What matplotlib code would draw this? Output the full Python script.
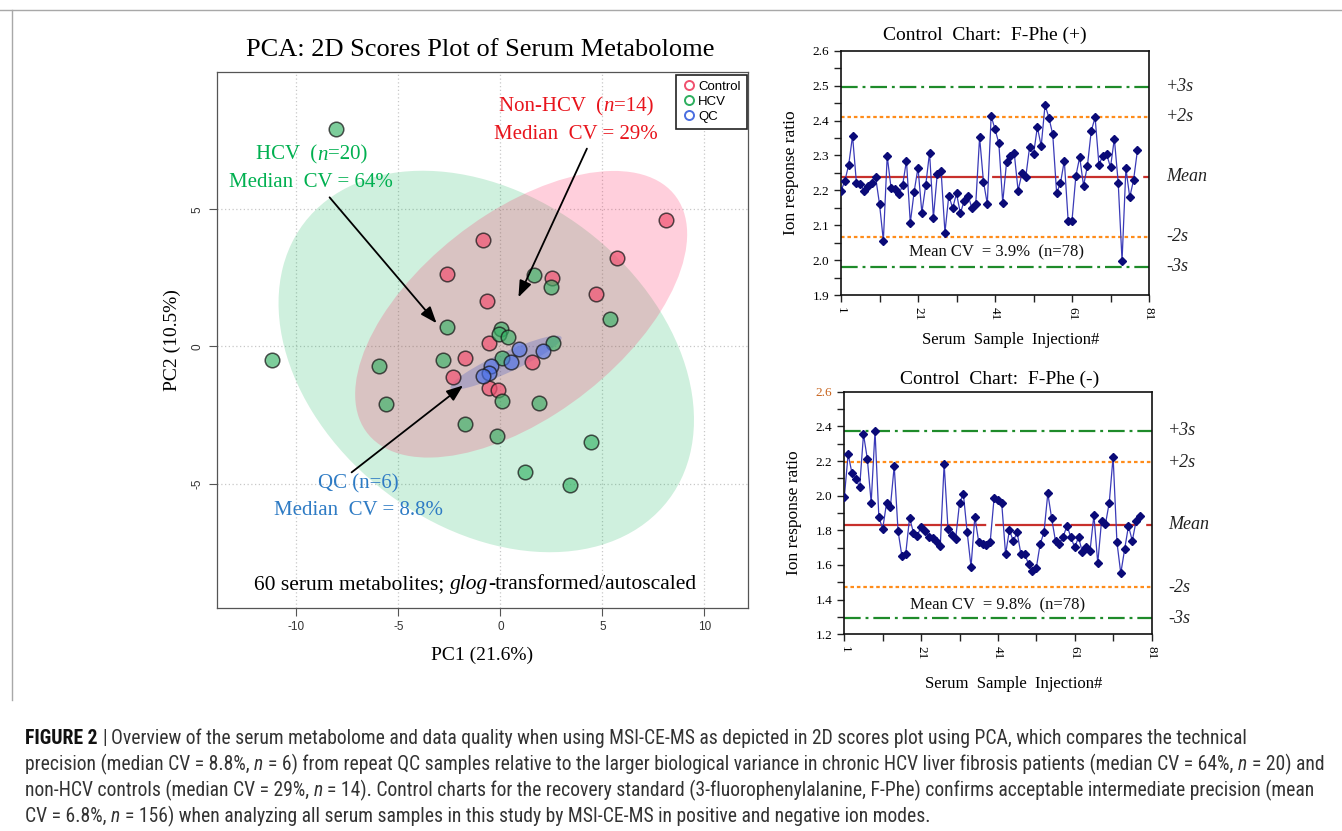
import numpy as np
import matplotlib
matplotlib.use("Agg")
import matplotlib.pyplot as plt
import matplotlib.transforms as mtransforms
from matplotlib.patches import Ellipse
from matplotlib.lines import Line2D
from matplotlib import font_manager

# ---------------- data ----------------
control_pc1 = [-2.60, -2.33, -0.83, 2.52, -0.67, -0.54, -1.73, 1.57, -0.54, -0.10, 8.12, 5.71, 4.68]
control_pc2 = [2.63, -1.12, 3.87, 2.49, 1.64, 0.12, -0.43, -0.57, -1.52, -1.58, 4.60, 3.22, 1.90]
hcv_pc1 = [-8.07, -11.19, -5.93, -5.60, -2.82, -2.63, 1.67, 2.49, 0.03, -0.05, 0.36, 2.57,
           0.07, 0.10, 1.91, -1.73, -0.18, 5.38, 4.45, 3.43, 1.23]
hcv_pc2 = [7.93, -0.49, -0.73, -2.09, -0.51, 0.70, 2.62, 2.16, 0.65, 0.46, 0.34, 0.12,
           -0.43, -1.99, -2.07, -2.82, -3.27, 1.01, -3.49, -5.04, -4.56]
qc_pc1 = [0.93, 2.08, 0.51, -0.47, -0.55, -0.83]
qc_pc2 = [-0.10, -0.15, -0.55, -0.71, -0.96, -1.06]

pos_ratio = [2.198, 2.227, 2.273, 2.356, 2.222, 2.218, 2.199, 2.212, 2.222, 2.237,
             2.161, 2.056, 2.298, 2.207, 2.204, 2.188, 2.214, 2.285, 2.107, 2.196,
             2.265, 2.136, 2.214, 2.308, 2.122, 2.246, 2.255, 2.079, 2.185, 2.149,
             2.191, 2.134, 2.170, 2.185, 2.149, 2.161, 2.352, 2.225, 2.161, 2.413,
             2.375, 2.335, 2.165, 2.280, 2.297, 2.306, 2.199, 2.249, 2.239, 2.325,
             2.303, 2.381, 2.327, 2.445, 2.408, 2.360, 2.193, 2.220, 2.285, 2.113,
             2.113, 2.241, 2.295, 2.213, 2.270, 2.370, 2.409, 2.273, 2.299, 2.303,
             2.266, 2.348, 2.222, 1.998, 2.263, 2.180, 2.230, 2.315]
neg_ratio = [1.990, 2.240, 2.129, 2.094, 2.050, 2.354, 2.212, 1.960, 2.373, 1.877,
             1.808, 1.958, 1.935, 2.171, 1.796, 1.652, 1.665, 1.873, 1.787, 1.769,
             1.821, 1.796, 1.763, 1.758, 1.740, 1.712, 2.183, 1.810, 1.771, 1.752,
             1.956, 2.012, 1.788, 1.590, 1.879, 1.733, 1.720, 1.715, 1.735, 1.985,
             1.975, 1.955, 1.662, 1.802, 1.738, 1.788, 1.662, 1.662, 1.604, 1.565,
             1.583, 1.721, 1.788, 2.013, 1.869, 1.738, 1.721, 1.763, 1.827, 1.760,
             1.702, 1.760, 1.673, 1.702, 1.683, 1.888, 1.610, 1.856, 1.835, 1.960,
             2.225, 1.731, 1.552, 1.690, 1.825, 1.740, 1.855, 1.885]
pos_mean, pos_sd = 2.239, 0.086
neg_mean, neg_sd = 1.833, 0.1805

pca_xticks = [-10, -5, 0, 5, 10]
pca_yticks = [-5, 0, 5]
inj_ticks = [1, 21, 41, 61, 81]

# ---------------- setup ----------------
W, H = 1342, 831
plt.rcParams["axes.unicode_minus"] = False
fig = plt.figure(figsize=(W / 100, H / 100), dpi=100)
fig.patch.set_facecolor("white")
ttf = font_manager.fontManager.ttflist
names = {f.name for f in ttf}
SERIF = "Liberation Serif"
SANS = "Liberation Sans"

# pick a condensed sans face for the caption if one exists
NARROW, NSTRETCH = "Liberation Sans", "normal"
if "Liberation Sans Narrow" in names:
    NARROW = "Liberation Sans Narrow"
else:
    for pref in ["Roboto Condensed", "Open Sans Condensed", "Noto Sans Condensed"]:
        if pref in names:
            NARROW = pref
            break
    else:
        for fam in ["Liberation Sans", "DejaVu Sans", "Noto Sans", "Open Sans", "Roboto"]:
            if any(f.name == fam and f.stretch in ("condensed", "semi-condensed") for f in ttf):
                NARROW = fam
                NSTRETCH = [f.stretch for f in ttf if f.name == fam and f.stretch in ("condensed", "semi-condensed")][0]
                break

renderer = fig.canvas.get_renderer()
ID = mtransforms.IdentityTransform()


def rect(l, t, r, b):
    return [l / W, 1 - b / H, (r - l) / W, (b - t) / H]


def _w(s, props):
    t1 = fig.text(0, 0, "|" + s + "|", **props)
    t2 = fig.text(0, 0, "||", **props)
    w = t1.get_window_extent(renderer).width - t2.get_window_extent(renderer).width
    t1.remove(); t2.remove()
    return w


def rich(x, y, segs, ha="center"):
    """x, y in display pixels (y from bottom, baseline)."""
    widths = [_w(s, p) for s, p in segs]
    total = sum(widths)
    cx = x - total / 2 if ha == "center" else x
    for (s, p), w in zip(segs, widths):
        lead = len(s) - len(s.lstrip(" "))
        st = s.strip(" ")
        off = _w(" " * lead, p) if lead else 0
        if st:
            fig.text(cx + off, y, st, transform=ID, ha="left", va="baseline", **p)
        cx += w
    return total


# panel frame lines (top and left)
fig.add_artist(Line2D([0, 1], [1 - 10 / H, 1 - 10 / H], transform=fig.transFigure,
                      color="#a8a8a8", lw=1.0))
fig.add_artist(Line2D([12 / W, 12 / W], [1 - 10 / H, 1 - 700 / H], transform=fig.transFigure,
                      color="#a8a8a8", lw=1.0))

# ---------------- PCA panel ----------------
ax = fig.add_axes(rect(217, 72, 748, 608))
ax.set_xlim(-13.89, 12.14)
ax.set_ylim(-9.53, 10.0)
ax.set_xticks(pca_xticks)
ax.set_yticks(pca_yticks)
ax.grid(True, color="#c8c8c8", linestyle=(0, (1, 2)), linewidth=0.9)
ax.set_axisbelow(True)
for sp in ax.spines.values():
    sp.set_color("#555555"); sp.set_linewidth(0.9)
ax.tick_params(direction="out", length=6, color="#555555", labelsize=8.5, labelcolor="#333333")
ax.tick_params(axis="y", labelrotation=90)
for lab in ax.get_xticklabels() + ax.get_yticklabels():
    lab.set_fontfamily(SANS)
for lab in ax.get_yticklabels():
    lab.set_va("center")


def conf_ellipse(xs, ys, **kw):
    xs, ys = np.asarray(xs), np.asarray(ys)
    cov = np.cov(xs, ys)
    vals, vecs = np.linalg.eigh(cov)
    order = vals.argsort()[::-1]
    vals, vecs = vals[order], vecs[:, order]
    ang = np.degrees(np.arctan2(vecs[1, 0], vecs[0, 0]))
    k = np.sqrt(5.991)
    return Ellipse((xs.mean(), ys.mean()), 2 * k * np.sqrt(vals[0]), 2 * k * np.sqrt(vals[1]),
                   angle=ang, **kw)


ax.add_patch(conf_ellipse(hcv_pc1, hcv_pc2, facecolor="#00B050", alpha=0.19, edgecolor="none", zorder=1))
ax.add_patch(conf_ellipse(control_pc1, control_pc2, facecolor="#FF1F5A", alpha=0.21, edgecolor="none", zorder=1))
ax.add_patch(conf_ellipse(qc_pc1, qc_pc2, facecolor="#3048C0", alpha=0.25, edgecolor="none", zorder=1))

ms = 110
ax.scatter(control_pc1, control_pc2, s=ms, facecolor=(0.95, 0.33, 0.45, 0.72),
           edgecolor=(0.1, 0.1, 0.1, 0.75), linewidth=1.1, zorder=3)
ax.scatter(hcv_pc1, hcv_pc2, s=ms, facecolor=(0.22, 0.70, 0.40, 0.65),
           edgecolor=(0.1, 0.1, 0.1, 0.75), linewidth=1.1, zorder=3)
ax.scatter(qc_pc1, qc_pc2, s=ms, facecolor=(0.30, 0.45, 0.92, 0.62),
           edgecolor=(0.1, 0.1, 0.1, 0.75), linewidth=1.1, zorder=3)

handles = [Line2D([], [], marker="o", linestyle="none", markerfacecolor="none", markeredgecolor=c,
                  markeredgewidth=1.4, markersize=6.5) for c in ["#F0506E", "#2EAF5F", "#4A6EE0"]]
leg = ax.legend(handles, ["Control", "HCV", "QC"], loc="upper right", bbox_to_anchor=(1.0, 0.997),
                borderaxespad=0.1, frameon=True, fancybox=False, framealpha=1, edgecolor="#222222",
                handletextpad=0.15, borderpad=0.45, labelspacing=0.2, handlelength=1.1,
                prop={"family": SANS, "size": 9.5})
leg.get_frame().set_linewidth(1.2)
leg.set_zorder(6)

arrow_kw = dict(arrowstyle="-|>,head_length=1.0,head_width=0.38", color="black", lw=1.3)
ax.annotate("", xy=(-3.04, 0.77), xytext=(-8.46, 5.51), arrowprops=arrow_kw, zorder=5)
ax.annotate("", xy=(0.83, 1.70), xytext=(4.30, 7.30), arrowprops=arrow_kw, zorder=5)
ax.annotate("", xy=(-1.72, -1.36), xytext=(-7.40, -4.65), arrowprops=arrow_kw, zorder=5)

ax.set_xlabel("PC1 (21.6%)", fontfamily=SERIF, fontsize=14, labelpad=10)
ax.set_ylabel("PC2 (10.5%)", fontfamily=SERIF, fontsize=14, labelpad=8)
fig.text(480 / W, 1 - 50 / H, "PCA: 2D Scores Plot of Serum Metabolome", fontfamily=SERIF,
         fontsize=19, ha="center", va="center")

fig.canvas.draw()


def d2px(x, y):
    return ax.transData.transform((x, y))


RED, GRN, BLU = "#E8141C", "#00B050", "#2E7BC4"
pr = dict(family=SERIF, size=15, color=RED)
pri = dict(family=SERIF, size=15, color=RED, style="italic")
x, y = d2px(3.71, 8.82); rich(x, y - 7, [("Non-HCV  (", pr), ("n", pri), ("=14)", pr)])
x, y = d2px(3.71, 7.81); rich(x, y - 7, [("Median  CV = 29%", pr)])
pg = dict(family=SERIF, size=15, color=GRN)
pgi = dict(family=SERIF, size=15, color=GRN, style="italic")
x, y = d2px(-9.25, 7.06); rich(x, y - 7, [("HCV  (", pg), ("n", pgi), ("=20)", pg)])
x, y = d2px(-9.30, 6.08); rich(x, y - 7, [("Median  CV = 64%", pg)])
pb = dict(family=SERIF, size=15, color=BLU)
x, y = d2px(-6.96, -4.91); rich(x, y - 7, [("QC (n=6)", pb)])
x, y = d2px(-6.96, -5.88); rich(x, y - 7, [("Median  CV = 8.8%", pb)])
pk = dict(family=SERIF, size=15.5, color="black")
pki = dict(family=SERIF, size=15.5, color="black", style="italic")
x, y = d2px(-1.24, -8.59)
rich(x, y - 7, [("60 serum metabolites; ", pk), ("glog", pki), ("-transformed/autoscaled", pk)])


# ---------------- control charts ----------------
def control_chart(r, vals, mean, sd, ylim, major, minor, title, title_xy, cv_text, cv_xy,
                  ylab_x, xlab_y, top_label_color=None):
    a = fig.add_axes(r)
    xs = np.arange(1, len(vals) + 1)
    a.set_xlim(1, 81)
    a.set_ylim(*ylim)
    green = (0, (7.5, 2.2, 1.3, 2.2))
    a.axhline(mean + 3 * sd, color="#1E8B2A", lw=1.6, linestyle=green, zorder=1)
    a.axhline(mean - 3 * sd, color="#1E8B2A", lw=1.6, linestyle=green, zorder=1)
    a.axhline(mean + 2 * sd, color="#FF8C1A", lw=1.6, linestyle=(0, (1.6, 1.3)), zorder=1)
    a.axhline(mean - 2 * sd, color="#FF8C1A", lw=1.6, linestyle=(0, (1.6, 1.3)), zorder=1)
    a.axhline(mean, color="#C8302C", lw=1.6, linestyle=(0, (30, 4)), zorder=1)
    a.plot(xs, vals, color="#3A3AB8", lw=0.9, zorder=2)
    a.plot(xs, vals, linestyle="none", marker="D", markersize=3.6, color="#0A0A78", zorder=3)
    a.set_xticks(inj_ticks)
    a.set_xticks(np.arange(11, 81, 20), minor=True)
    a.set_yticks(major)
    a.set_yticks(minor, minor=True)
    a.set_yticklabels([f"{v:.1f}" for v in major])
    a.tick_params(direction="out", length=5, width=1.0, labelsize=9.5, color="#222222")
    a.tick_params(which="minor", direction="out", length=5, width=1.0, color="#222222")
    a.tick_params(axis="x", labelrotation=-90)
    for lab in a.get_xticklabels() + a.get_yticklabels():
        lab.set_fontfamily(SERIF)
    if top_label_color:
        a.get_yticklabels()[-1].set_color(top_label_color)
    for sp in a.spines.values():
        sp.set_color("#111111"); sp.set_linewidth(1.2)
    tr = mtransforms.blended_transform_factory(a.transAxes, a.transData)
    for lbl, v in [("+3s", mean + 3 * sd), ("+2s", mean + 2 * sd), ("Mean", mean),
                   ("-2s", mean - 2 * sd), ("-3s", mean - 3 * sd)]:
        a.text(1.055, v, lbl, transform=tr, fontfamily=SERIF, style="italic", fontsize=13,
               ha="left", va="center", color="#222222")
    a.text(cv_xy[0], cv_xy[1], cv_text, fontfamily=SERIF, fontsize=12, ha="center", va="center",
           color="#111111")
    fig.text(title_xy[0] / W, 1 - title_xy[1] / H, title, fontfamily=SERIF, fontsize=14,
             ha="center", va="center")
    fig.text(ylab_x / W, r[1] + r[3] / 2, "Ion response ratio", fontfamily=SERIF, fontsize=12.5,
             rotation=90, ha="center", va="center")
    fig.text(r[0] + r[2] / 2 + 0.012, 1 - xlab_y / H, "Serum  Sample  Injection#",
             fontfamily=SERIF, fontsize=12, ha="center", va="center")
    return a


control_chart(rect(841, 50.7, 1149, 295), pos_ratio, pos_mean, pos_sd, (1.9, 2.6),
              np.round(np.arange(1.9, 2.61, 0.1), 2), np.round(np.arange(1.95, 2.6, 0.1), 3),
              "Control  Chart:  F-Phe (+)", (985, 35), "Mean CV  = 3.9%  (n=78)", (41.5, 2.023),
              791, 340)
control_chart(rect(844.3, 391.7, 1151.5, 634.3), neg_ratio, neg_mean, neg_sd, (1.2, 2.6),
              np.round(np.arange(1.2, 2.61, 0.2), 2), np.round(np.arange(1.3, 2.6, 0.2), 3),
              "Control  Chart:  F-Phe (-)", (1000, 379), "Mean CV  = 9.8%  (n=78)", (41.0, 1.365),
              794, 684, top_label_color="#C8641E")

# ---------------- caption ----------------
cap_lines = [
    [("FIGURE 2", "bold"), (" | ", "normal"),
     ("Overview of the serum metabolome and data quality when using MSI-CE-MS as depicted in 2D scores plot using PCA, which compares the technical", "normal")],
    [("precision (median CV = 8.8%, ", "normal"), ("n", "italic"), (" = 6) from repeat QC samples relative to the larger biological variance in chronic HCV liver fibrosis patients (median CV = 64%, ", "normal"),
     ("n", "italic"), (" = 20) and", "normal")],
    [("non-HCV controls (median CV = 29%, ", "normal"), ("n", "italic"),
     (" = 14). Control charts for the recovery standard (3-fluorophenylalanine, F-Phe) confirms acceptable intermediate precision (mean", "normal")],
    [("CV = 6.8%, ", "normal"), ("n", "italic"), (" = 156) when analyzing all serum samples in this study by MSI-CE-MS in positive and negative ion modes.", "normal")],
]
cap_baselines = [744, 770, 796, 822]


def cap_props(kind, size):
    p = dict(family=NARROW, size=size, color="#333333", stretch=NSTRETCH)
    if kind == "bold":
        p["weight"] = "bold"; p["color"] = "#111111"
    if kind == "italic":
        p["style"] = "italic"
    return p


base = 10.0
w_l1 = sum(_w(s, cap_props(k, base)) for s, k in cap_lines[0])
w_l2 = sum(_w(s, cap_props(k, base)) for s, k in cap_lines[1])
csize = min(base * (1281 - 25) / w_l1, base * (1322 - 25) / w_l2)
for segs, yb in zip(cap_lines, cap_baselines):
    rich(25, H - yb, [(s, cap_props(k, csize)) for s, k in segs], ha="left")

fig.savefig("out.png", dpi=100, facecolor="white")
